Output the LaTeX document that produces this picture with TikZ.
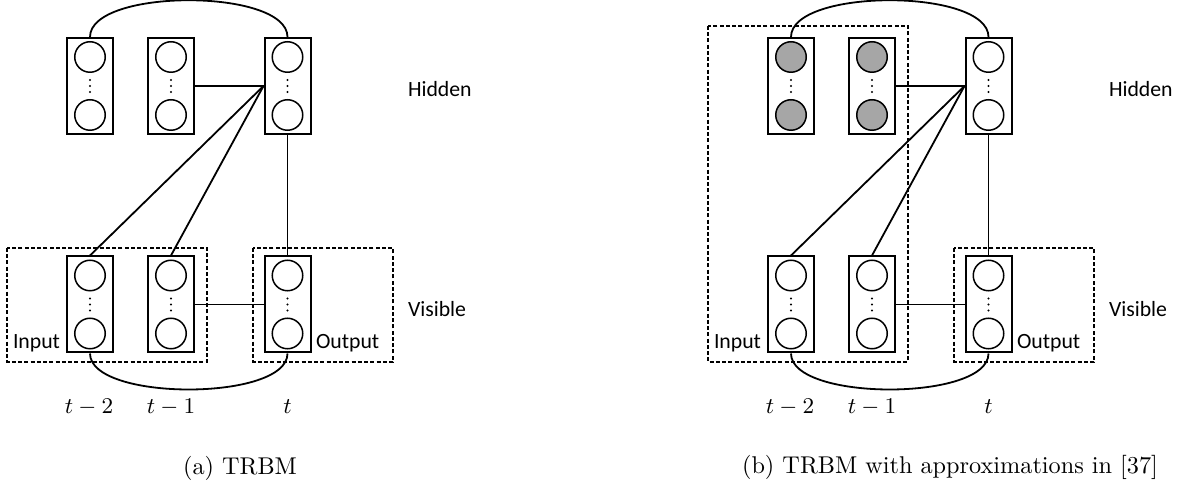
\documentclass[tikz,border=0pt]{standalone}
\usepackage{fontspec}
\setsansfont{Carlito}
\usetikzlibrary{calc}

\tikzset{
  layer/.style={draw, line width=0.8pt, fill=white, rectangle,
    minimum width=18.4pt, minimum height=38.4pt, inner sep=0pt},
  unit/.style={draw, line width=0.6pt, circle, minimum size=12.2pt, inner sep=0pt},
  shaded/.style={unit, fill=black!35},
  empty/.style={unit, fill=white},
  link/.style={line width=0.72pt},
  group/.style={line width=0.6pt, dash pattern=on 1.6pt off 0.9pt},
  tag/.style={font=\sffamily\fontsize{8.7}{10}\selectfont, inner sep=0pt},
  timelabel/.style={font=\fontsize{9.5}{11}\selectfont, inner sep=0pt},
  caption/.style={font=\fontsize{9.7}{12}\selectfont, inner sep=0pt}
}

% One layer column: name, x, y of centre, style of its units
\newcommand{\layercol}[4]{%
  \node[layer] (#1) at (#2,#3) {};
  \node[#4] (#1-top) at ($(#1)+(0,-29)$) {};
  \node[#4] (#1-bot) at ($(#1)+(0,29)$) {};
  \foreach \d in {-6,0,6} \fill ($(#1)+(0,\d)$) circle (0.45pt);
}

% One TRBM panel: prefix, horizontal offset, style of the past hidden units
\newcommand{\trbmpanel}[3]{%
  \begin{scope}[xshift=#2*0.4pt]
    \layercol{#1h1}{90}{86}{#3}
    \layercol{#1h2}{171}{86}{#3}
    \layercol{#1h3}{287.5}{86}{empty}
    \layercol{#1v1}{90}{304.5}{empty}
    \layercol{#1v2}{171}{304.5}{empty}
    \layercol{#1v3}{287.5}{304.5}{empty}
    \draw[link] (#1h1.north) .. controls +(0,-49) and +(0,-49) .. (#1h3.north);
    \draw[link] (#1v1.south) .. controls +(0,48) and +(0,48) .. (#1v3.south);
    \draw[link] (#1h2.east) -- (#1h3.west);
    \draw[link] (#1h3.west) -- (#1v1.north);
    \draw[link] (#1h3.west) -- (#1v2.north);
    \draw[link] (#1h3.south) -- (#1v3.north);
    \draw[link] (#1v2.east) -- (#1v3.west);
    \node[tag, anchor=west] (#1in) at (12.5,343) {Input};
    \node[tag, anchor=west] (#1out) at (315.5,343) {Output};
    \node[tag, anchor=west] (#1hid) at (407.5,89) {Hidden};
    \node[tag, anchor=west] (#1vis) at (407.5,309) {Visible};
    \node[timelabel] (#1t2) at (89,407) {$t-2$};
    \node[timelabel] (#1t1) at (171,407) {$t-1$};
    \node[timelabel] (#1t0) at (287.5,407) {$t$};
    \draw[group] (253,248) rectangle (393,362);
  \end{scope}
}

\begin{document}
\begin{tikzpicture}[x=0.4pt, y=-0.4pt]
  \useasboundingbox (0,0) rectangle (1181,485);

  % input groups drawn first, beneath the layer columns
  \draw[group] (7,248) rectangle (207,362);
  \draw[group] (708,26) rectangle (908,362);

  \trbmpanel{a}{0}{empty}
  \trbmpanel{b}{701}{shaded}

  \node[caption] (capa) at (240,468) {(a) TRBM};
  \node[caption] (capb) at (950,467) {(b) TRBM with approximations in [37]};
\end{tikzpicture}
\end{document}
